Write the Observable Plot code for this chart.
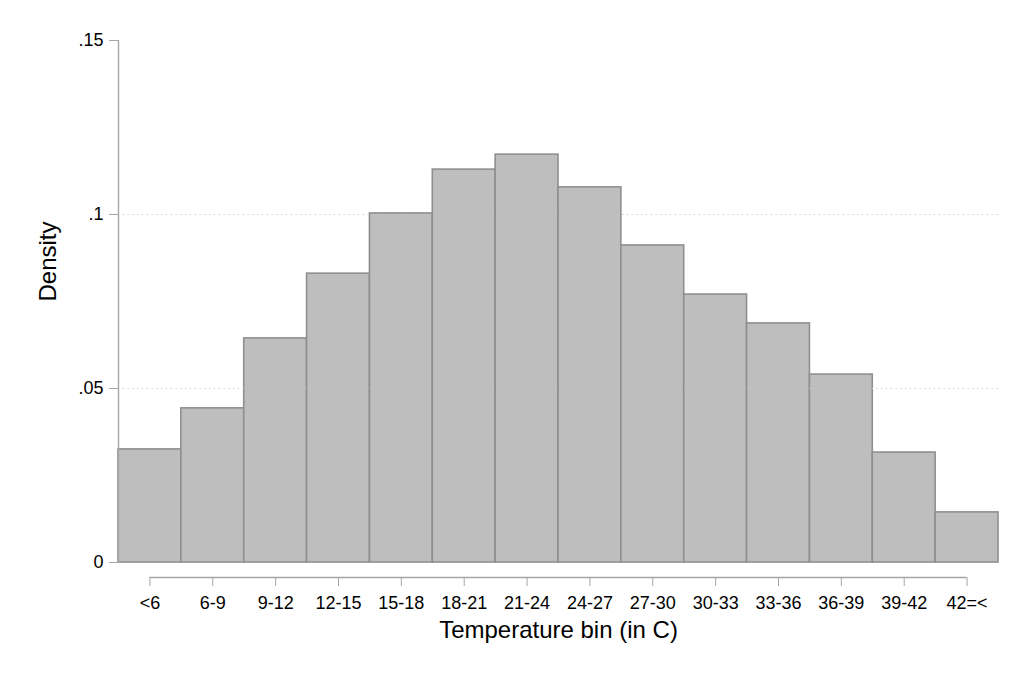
<!DOCTYPE html>
<html>
<head>
<meta charset="utf-8">
<script src="https://cdn.jsdelivr.net/npm/d3@7"></script>
<script src="https://cdn.jsdelivr.net/npm/@observablehq/plot@0.6"></script>
<style>
  html, body { margin: 0; padding: 0; background: #fff; }
  #chart { width: 1023px; height: 682px; }
</style>
</head>
<body>
<div id="chart"></div>
<script>
const bins = ["<6", "6-9", "9-12", "12-15", "15-18", "18-21", "21-24", "24-27", "27-30", "30-33", "33-36", "36-39", "39-42", "42=<"];
const density = [0.0325, 0.0443, 0.0644, 0.0830, 0.1003, 0.1129, 0.1172, 0.1078, 0.0911, 0.0770, 0.0687, 0.0540, 0.0316, 0.0144];
const yTicks = [0, 0.05, 0.1, 0.15];
const gridValues = [0.05, 0.1];
const yLabel = "Density";
const xLabel = "Temperature bin (in C)";

const data = bins.map((b, i) => ({bin: b, i, density: density[i]}));
const centers = bins.map((b, i) => i + 0.5);
const axisSpan = [{x1: centers[0], x2: centers[centers.length - 1]}];

const font = '"Liberation Sans", Arial, sans-serif';
const axisGray = "#a6a6a6";

const chart = Plot.plot({
  width: 1023,
  height: 682,
  marginLeft: 118,
  marginRight: 25,
  marginTop: 40,
  marginBottom: 120,
  style: {fontFamily: font, fontSize: "18px", color: "black", background: "white"},
  x: {domain: [0, bins.length], axis: null},
  y: {domain: [0, 0.15], axis: null},
  marks: [
    Plot.rectY(data, {
      x1: d => d.i, x2: d => d.i + 1, y1: 0, y2: "density",
      fill: "#bebebe", stroke: "#8f8f8f", strokeWidth: 1.6
    }),
    Plot.ruleY(gridValues, {x1: 0, x2: bins.length, stroke: "#c4c4c4", strokeWidth: 1, strokeDasharray: "1.2,3.6"}),
    Plot.ruleX([0], {y1: 0, y2: 0.15, stroke: axisGray, strokeWidth: 1.4}),
    Plot.axisY({
      ticks: yTicks, tickSize: 9, tickPadding: 6,
      tickFormat: d => d === 0 ? "0" : d3.format(".2~f")(d).replace(/^0/, ""),
      stroke: axisGray, fill: "black", fontSize: 18, label: null
    }),
    Plot.ruleY(axisSpan, {x1: "x1", x2: "x2", y: () => 0, dy: 15, stroke: axisGray, strokeWidth: 1.4}),
    Plot.axisX({
      ticks: centers, tickSize: 9, tickPadding: 10, dy: 15,
      tickFormat: c => bins[Math.floor(c)],
      stroke: axisGray, fill: "black", fontSize: 18, label: null
    }),
    Plot.text([yLabel], {frameAnchor: "left", dx: -70, rotate: -90, fontSize: 24, fill: "black"}),
    Plot.text([xLabel], {frameAnchor: "bottom", dy: 75, fontSize: 24, fill: "black"})
  ]
});
document.getElementById("chart").appendChild(chart);
</script>
</body>
</html>
